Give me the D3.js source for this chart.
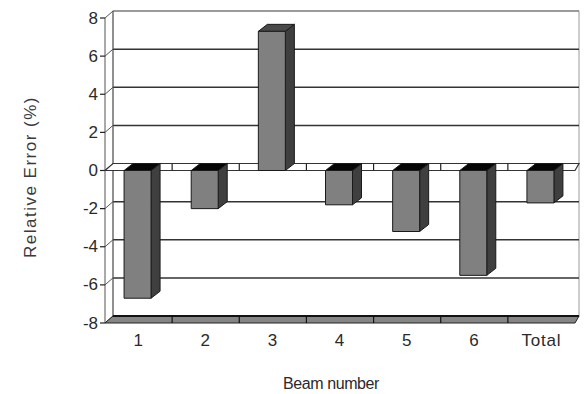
<!DOCTYPE html>
<html>
<head>
<meta charset="utf-8">
<script src="https://cdn.jsdelivr.net/npm/d3@7"></script>
<style>
  html, body { margin: 0; padding: 0; background: #fff; }
  svg { display: block; }
  text { font-family: "Liberation Sans", Arial, sans-serif; fill: #2a2a2a; }
</style>
</head>
<body>
<svg id="chart" width="585" height="394"></svg>
<script>
// Relative error per beam, in percent
const categories = ["1", "2", "3", "4", "5", "6", "Total"];
const errors = [-6.7, -2.0, 7.3, -1.8, -3.2, -5.5, -1.7];
const yTicks = [8, 6, 4, 2, 0, -2, -4, -6, -8];
const yTickLabels = ["8", "6", "4", "2", "0", "-2", "-4", "-6", "-8"];
const xTitle = "Beam number";
const yTitle = "Relative Error (%)";

const svg = d3.select("#chart");

// Front plane and back plane of the 3-D box
const depthY = -7;
const xFront = d3.scaleBand().domain(categories).range([105, 575]);
const xBack = d3.scaleBand().domain(categories).range([113, 579]);
const yFront = d3.scaleLinear().domain([-8, 8]).range([323, 18]);
const yBack = v => yFront(v) + depthY;

const gridColor = "#333";

// Back wall
svg.append("rect")
  .attr("x", xBack.range()[0]).attr("y", yBack(8))
  .attr("width", xBack.range()[1] - xBack.range()[0])
  .attr("height", yBack(-8) - yBack(8))
  .attr("fill", "#fff").attr("stroke", "#9a9a9a").attr("stroke-width", 1);

// Horizontal gridlines on the back wall
svg.append("g").selectAll("line").data(yTicks.filter(v => v !== 0)).join("line")
  .attr("x1", xBack.range()[0]).attr("x2", xBack.range()[1])
  .attr("y1", d => yBack(d)).attr("y2", d => yBack(d))
  .attr("stroke", d => d === 8 ? "#8a8a8a" : gridColor)
  .attr("stroke-width", 1.5);

// Left side wall: front edge, back edge, and slanted grid steps
const xl0 = xFront.range()[0], xl1 = xBack.range()[0];
const side = svg.append("g").attr("stroke", "#555").attr("stroke-width", 1);
side.append("line").attr("x1", xl0).attr("x2", xl0)
  .attr("y1", yFront(8)).attr("y2", yFront(-8));
side.append("line").attr("x1", xl1).attr("x2", xl1)
  .attr("y1", yBack(8)).attr("y2", yBack(-8));
side.selectAll(".step").data(yTicks).join("line").attr("class", "step")
  .attr("x1", xl0).attr("y1", d => yFront(d))
  .attr("x2", xl1).attr("y2", d => yBack(d));
// tick marks on the value axis
svg.append("g").selectAll("line").data(yTicks).join("line")
  .attr("x1", xl0 - 5).attr("x2", xl0)
  .attr("y1", d => yFront(d)).attr("y2", d => yFront(d))
  .attr("stroke", "#222").attr("stroke-width", 1.2);

// Value axis labels
svg.append("g").selectAll("text").data(yTicks).join("text")
  .attr("x", xl0 - 7).attr("y", d => yFront(d))
  .attr("text-anchor", "end").attr("dominant-baseline", "central")
  .attr("font-size", 17)
  .text((d, i) => yTickLabels[i]);

// Slab helper: parallelogram between the front and back planes at value v
function slab(v) {
  const f0 = xFront.range()[0], f1 = xFront.range()[1];
  const b0 = xBack.range()[0], b1 = xBack.range()[1];
  return [[f0, yFront(v)], [b0, yBack(v)], [b1, yBack(v)], [f1, yFront(v)]];
}
const line = d3.line();
const bandEdges = categories.slice(1).map(c => xFront(c));

// Floor at the bottom of the value range
svg.append("path").attr("d", line(slab(-8)) + "Z")
  .attr("fill", "#858585").attr("stroke", "#222").attr("stroke-width", 1);
svg.append("line")
  .attr("x1", xBack.range()[0]).attr("x2", xBack.range()[1])
  .attr("y1", yBack(-8)).attr("y2", yBack(-8))
  .attr("stroke", "#111").attr("stroke-width", 2);
svg.append("g").selectAll("line").data(bandEdges).join("line")
  .attr("x1", d => d).attr("x2", d => d)
  .attr("y1", yFront(-8)).attr("y2", yBack(-8))
  .attr("stroke", "#111").attr("stroke-width", 1.2);

// Zero plane the columns grow from
svg.append("path").attr("d", line(slab(0)) + "Z")
  .attr("fill", "#fff").attr("stroke", "#333").attr("stroke-width", 1.2);
svg.append("g").selectAll("line").data(bandEdges).join("line")
  .attr("x1", d => d).attr("x2", d => d)
  .attr("y1", yFront(0)).attr("y2", yBack(0))
  .attr("stroke", "#222").attr("stroke-width", 1.2);

// 3-D columns
const faceW = 27, sideW = 9;
const bars = svg.append("g").selectAll("g").data(categories.map((c, i) => ({ c, v: errors[i] }))).join("g")
  .attr("stroke", "#1a1a1a").attr("stroke-width", 1).attr("stroke-linejoin", "round");

bars.each(function (d) {
  const g = d3.select(this);
  const cx = xFront(d.c) + xFront.bandwidth() / 2 - 1;
  const xl = cx - faceW / 2, xr = cx + faceW / 2;
  const yTop = yFront(Math.max(0, d.v)), yBot = yFront(Math.min(0, d.v));
  // side face
  g.append("path").attr("fill", "#3f3f3f")
    .attr("d", line([[xr, yTop], [xr + sideW, yTop + depthY], [xr + sideW, yBot + depthY], [xr, yBot]]) + "Z");
  // top face
  g.append("path").attr("fill", d.v < 0 ? "#050505" : "#4a4a4a")
    .attr("d", line([[xl, yTop], [xl + sideW, yTop + depthY], [xr + sideW, yTop + depthY], [xr, yTop]]) + "Z");
  // front face
  g.append("rect").attr("fill", "#808080")
    .attr("x", xl).attr("y", yTop).attr("width", faceW).attr("height", yBot - yTop);
});

// Category labels
svg.append("g").selectAll("text").data(categories).join("text")
  .attr("x", d => xFront(d) + xFront.bandwidth() / 2)
  .attr("y", 340)
  .attr("text-anchor", "middle").attr("dominant-baseline", "central")
  .attr("font-size", 17).attr("letter-spacing", 0.8)
  .text(d => d);

// Axis titles
svg.append("text")
  .attr("x", 331).attr("y", 383)
  .attr("text-anchor", "middle").attr("dominant-baseline", "central")
  .attr("font-size", 16).attr("letter-spacing", -0.4)
  .text(xTitle);

svg.append("text")
  .attr("transform", "translate(30,177) rotate(-90)")
  .attr("text-anchor", "middle").attr("dominant-baseline", "central")
  .attr("font-size", 17).attr("letter-spacing", 1.5)
  .style("fill", "#3a3a3a")
  .text(yTitle);
</script>
</body>
</html>
